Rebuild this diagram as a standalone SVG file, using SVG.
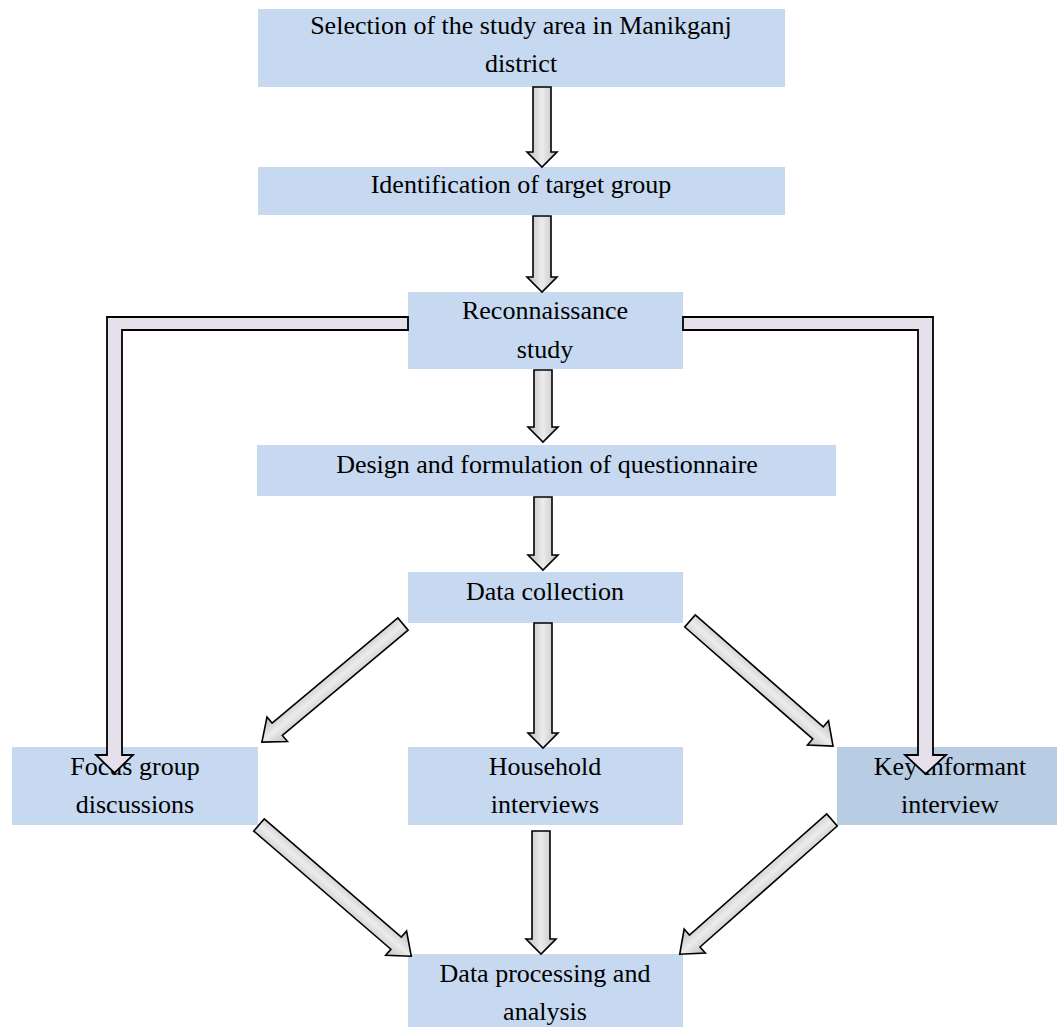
<svg xmlns="http://www.w3.org/2000/svg" width="1057" height="1027" viewBox="0 0 1057 1027">
<style>
.box{fill:#c6d9f0}
.box2{fill:#b8cce4}
.t{font-family:"Liberation Serif","Times New Roman",serif;font-size:26px;fill:#000;text-anchor:middle}
.arr{fill:url(#g);stroke:#000;stroke-width:1.6;stroke-linejoin:miter}
.brk{fill:#e6e0ec;stroke:#000;stroke-width:1.8}
</style>
<defs>
<linearGradient id="g" x1="0" y1="0" x2="0" y2="1">
<stop offset="0" stop-color="#bdbdbd"/>
<stop offset="0.5" stop-color="#ececec"/>
<stop offset="1" stop-color="#bdbdbd"/>
</linearGradient>
</defs>
<rect width="1057" height="1027" fill="#fff"/>
<g id="n1"><rect class="box" x="258" y="9" width="527" height="78"/>
<text class="t" x="521" y="34">Selection of the study area in Manikganj</text>
<text class="t" x="521" y="72">district</text></g>
<g id="n2"><rect class="box" x="258" y="167" width="527" height="48"/>
<text class="t" x="521" y="193">Identification of target group</text></g>
<g id="n3"><rect class="box" x="408" y="292" width="275" height="77"/>
<text class="t" x="545" y="319">Reconnaissance</text>
<text class="t" x="545" y="358">study</text></g>
<g id="n4"><rect class="box" x="257" y="445" width="579" height="51"/>
<text class="t" x="547" y="473">Design and formulation of questionnaire</text></g>
<g id="n5"><rect class="box" x="408" y="572" width="275" height="51"/>
<text class="t" x="545" y="600">Data collection</text></g>
<g id="n6"><rect class="box" x="12" y="747" width="246" height="78"/>
<text class="t" x="135" y="775">Focus group</text>
<text class="t" x="135" y="813">discussions</text></g>
<g id="n7"><rect class="box" x="408" y="747" width="275" height="78"/>
<text class="t" x="545" y="775">Household</text>
<text class="t" x="545" y="813">interviews</text></g>
<g id="n8"><rect class="box2" x="837" y="747" width="220" height="78"/>
<text class="t" x="950" y="775">Key informant</text>
<text class="t" x="950" y="813">interview</text></g>
<g id="n9"><rect class="box" x="408" y="954" width="275" height="73"/>
<text class="t" x="545" y="982">Data processing and</text>
<text class="t" x="545" y="1020">analysis</text></g>
<g id="connectors">
<path class="arr" transform="translate(542,87) rotate(90)" d="M0,-9 L65,-9 L65,-15 L80,0 L65,15 L65,9 L0,9 Z"/>
<path class="arr" transform="translate(542,216) rotate(90)" d="M0,-9 L61,-9 L61,-15 L76,0 L61,15 L61,9 L0,9 Z"/>
<path class="arr" transform="translate(543,370) rotate(90)" d="M0,-9 L57,-9 L57,-15 L72,0 L57,15 L57,9 L0,9 Z"/>
<path class="arr" transform="translate(543,497) rotate(90)" d="M0,-9 L58,-9 L58,-15 L73,0 L58,15 L58,9 L0,9 Z"/>
<path class="arr" transform="translate(543,623) rotate(90)" d="M0,-9 L110,-9 L110,-15 L125,0 L110,15 L110,9 L0,9 Z"/>
<path class="arr" transform="translate(541,831) rotate(90)" d="M0,-9 L108,-9 L108,-15 L123,0 L108,15 L108,9 L0,9 Z"/>
<path class="arr" transform="translate(403,624) rotate(140.07)" d="M0,-8 L164,-8 L164,-16 L184,0 L164,16 L164,8 L0,8 Z"/>
<path class="arr" transform="translate(690,621) rotate(41.16)" d="M0,-8 L170,-8 L170,-16 L190,0 L170,16 L170,8 L0,8 Z"/>
<path class="arr" transform="translate(259,825) rotate(40.75)" d="M0,-8 L181,-8 L181,-16 L201,0 L181,16 L181,8 L0,8 Z"/>
<path class="arr" transform="translate(832,820) rotate(138.6)" d="M0,-8 L183,-8 L183,-16 L203,0 L183,16 L183,8 L0,8 Z"/>
<path class="brk" d="M408,317 L107,317 L107,755 L96,755 L114.5,773 L133,755 L122,755 L122,330 L408,330 Z"/>
<path class="brk" d="M683,317 L933,317 L933,755 L946,755 L925.5,774 L905,755 L918,755 L918,330 L683,330 Z"/>
</g>
</svg>
